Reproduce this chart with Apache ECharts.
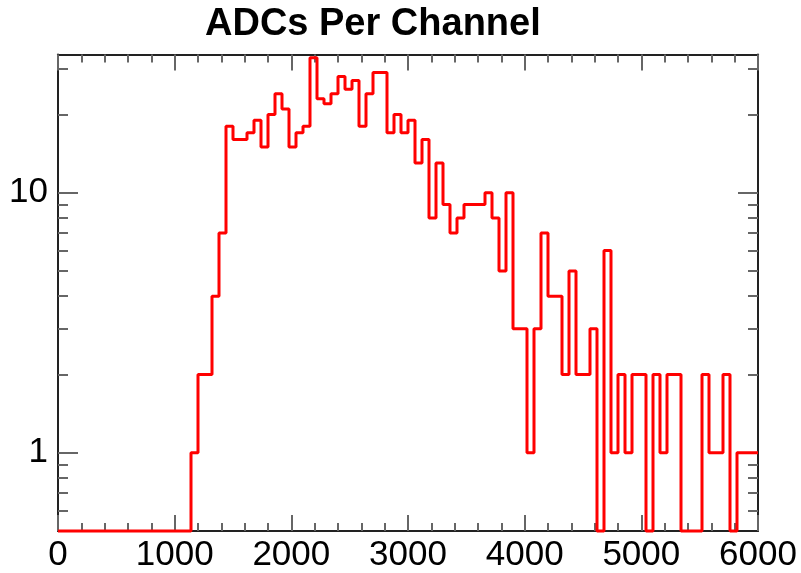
<!DOCTYPE html>
<html>
<head>
<meta charset="utf-8">
<title>ADCs Per Channel</title>
<script src="https://cdn.jsdelivr.net/npm/echarts@6/dist/echarts.min.js"></script>
<style>
  html, body { margin: 0; padding: 0; background: #ffffff; }
  #chart { width: 801px; height: 573px; }
</style>
</head>
<body>
<div id="chart"></div>
<script>
// Histogram of ADC counts, 60-wide channels starting at 0
const binStart = 0;
const binWidth = 60;
const counts = [
  0, 0, 0, 0, 0, 0, 0, 0, 0, 0,
  0, 0, 0, 0, 0, 0, 0, 0, 0, 1,
  2, 2, 4, 7, 18, 16, 16, 17, 19, 15,
  20, 24, 21, 15, 17, 18, 33, 23, 22, 24,
  28, 25, 27, 18, 24, 29, 29, 17, 20, 17,
  19, 13, 16, 8, 13, 9, 7, 8, 9, 9,
  9, 10, 8, 5, 10, 3, 3, 1, 3, 7,
  4, 4, 2, 5, 2, 2, 3, 0, 6, 1,
  2, 1, 2, 2, 0, 2, 1, 2, 2, 0,
  0, 0, 2, 1, 1, 2, 0, 1, 1, 1
];

// Axis ranges and tick positions
const xMin = 0, xMax = 6000, xStep = 1000;
const yMin = 0.5, yMax = 34;
const yMajorTicks = [1, 10];
const yMinorTicks = [0.6, 0.7, 0.8, 0.9, 2, 3, 4, 5, 6, 7, 8, 9, 20, 30];

// Step outline: one point per left bin edge, plus the closing right edge.
// Empty channels sit on the floor of the log axis.
const stepData = counts.map((c, i) => [binStart + i * binWidth, c > 0 ? c : yMin]);
stepData.push([binStart + counts.length * binWidth, counts[counts.length - 1] > 0 ? counts[counts.length - 1] : yMin]);

const FONT = 'Liberation Sans, Arial, Helvetica, sans-serif';
const frame = { show: true, lineStyle: { color: '#222222', width: 2 } };
const tickStyle = { color: '#666666', width: 2 };

function xAxisDef(position, withLabels) {
  return {
    type: 'value', position: position,
    min: xMin, max: xMax, interval: xStep,
    axisLine: frame,
    axisTick: { show: true, inside: true, length: 16, lineStyle: tickStyle },
    minorTick: { show: true, splitNumber: 5, length: 8, lineStyle: tickStyle },
    axisLabel: { show: withLabels, fontSize: 35, color: '#000000', fontFamily: FONT, margin: 7,
                 formatter: v => String(v) },
    splitLine: { show: false }, minorSplitLine: { show: false }
  };
}

function yAxisDef(position, values, len, withLabels, withLine) {
  return {
    type: 'log', logBase: 10, position: position, offset: 0,
    min: yMin, max: yMax,
    axisLine: withLine ? frame : { show: false },
    axisTick: { show: true, inside: true, length: len, lineStyle: tickStyle, customValues: values },
    minorTick: { show: false },
    axisLabel: withLabels
      ? { show: true, customValues: values, fontSize: 35, color: '#000000', fontFamily: FONT, margin: 10,
          formatter: v => String(Math.round(v)) }
      : { show: false },
    splitLine: { show: false }
  };
}

const chart = echarts.init(document.getElementById('chart'), null, { renderer: 'canvas' });
chart.setOption({
  animation: false,
  backgroundColor: '#ffffff',
  title: {
    text: 'ADCs Per Channel',
    left: 205, top: 6, padding: 0,
    textStyle: { fontFamily: FONT, fontSize: 38, fontWeight: 'bold', color: '#000000' }
  },
  grid: { left: 58, top: 54.5, width: 700, height: 477, containLabel: false },
  xAxis: [xAxisDef('bottom', true), xAxisDef('top', false)],
  yAxis: [
    yAxisDef('left', yMajorTicks, 20, true, true),
    yAxisDef('left', yMinorTicks, 10, false, false),
    yAxisDef('right', yMajorTicks, 20, false, true),
    yAxisDef('right', yMinorTicks, 10, false, false)
  ],
  series: [{
    name: 'ADCs',
    type: 'line',
    xAxisIndex: 0, yAxisIndex: 0,
    step: 'end',
    symbol: 'none',
    clip: false,
    data: stepData,
    lineStyle: { color: '#ff0000', width: 3 }
  }]
});
</script>
</body>
</html>
